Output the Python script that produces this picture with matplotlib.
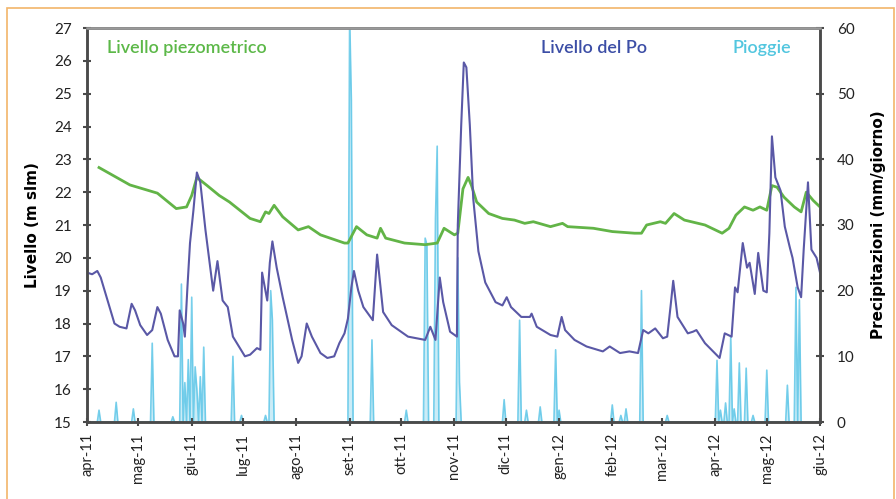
import numpy as np
import matplotlib
matplotlib.use("Agg")
import matplotlib.pyplot as plt
from matplotlib.patches import Rectangle

plt.rcParams['font.family'] = ['Lato', 'DejaVu Sans']

# giorni dal 1 aprile 2011
start = np.datetime64('2011-04-01')

piezo_days = [7, 25, 41, 52, 58, 61, 64, 70, 77, 83, 95, 101, 104, 106, 109, 114, 123, 129,
              136, 150, 152, 157, 163, 169, 171, 174, 185, 197, 204, 208, 214, 216, 219, 222,
              224, 227, 234, 242, 249, 255, 260, 270, 277, 280, 295, 306, 319, 323, 326, 334,
              337, 342, 348, 360, 370, 374, 378, 383, 388, 392, 396, 399, 402, 406, 412, 416,
              419, 423, 427]
piezo_level = [22.75, 22.22, 21.97, 21.5, 21.55, 21.9, 22.45, 22.2, 21.9, 21.7, 21.2, 21.1,
               21.4, 21.35, 21.6, 21.25, 20.85, 20.95, 20.7, 20.45, 20.45, 20.95, 20.7, 20.6,
               20.9, 20.6, 20.45, 20.4, 20.45, 20.9, 20.7, 20.75, 22.1, 22.45, 22.2, 21.7, 21.35,
               21.2, 21.15, 21.05, 21.1, 20.95, 21.05, 20.95, 20.9, 20.8, 20.75, 20.75, 21.0,
               21.1, 21.05, 21.35, 21.15, 21.0, 20.75, 20.9, 21.3, 21.55, 21.45, 21.55, 21.45,
               22.2, 22.15, 21.85, 21.55, 21.4, 22.0, 21.75, 21.55]

po_days = [0, 3, 6, 8, 12, 16, 19, 23, 26, 28, 31, 35, 38, 41, 43, 47, 51, 53, 54, 56, 57,
           58.5, 60, 62, 64, 66, 69, 73.5, 76, 79, 82, 85, 92, 95, 99, 101, 102, 105, 106.5,
           108, 110.5, 114, 119.5, 123, 125, 128, 131, 136, 140, 144, 147, 150, 152, 154,
           155.5, 158, 161, 166.5, 169, 172.5, 177.5, 187, 197, 200, 203, 205.5, 207.5, 211.5,
           215.5, 216, 218, 219.5, 221, 223, 225, 228, 232, 238, 242, 244.5, 247, 253, 258,
           259, 262, 270, 274, 276.5, 278.5, 284, 291, 300.5, 304.5, 310.5, 316, 321, 324,
           327, 331, 335.5, 338, 340, 341.5, 344, 350, 353, 355, 360, 368.5, 371.5, 375.5,
           377.5, 379, 382, 384.5, 386, 389, 391, 394, 396, 397.5, 399, 401, 404, 406.5,
           409.5, 411, 414, 416, 417.5, 420, 422, 425, 427]
po_level = [19.55, 19.5, 19.6, 19.4, 18.7, 18.0, 17.9, 17.85, 18.6, 18.4, 17.95, 17.65, 17.8,
            18.5, 18.3, 17.5, 17.0, 17.0, 18.4, 18.0, 17.6, 19.1, 20.45, 21.45, 22.6, 22.3,
            20.85, 19.0, 19.9, 18.7, 18.5, 17.6, 17.0, 17.05, 17.25, 17.2, 19.55, 18.7, 19.85,
            20.5, 19.7, 18.8, 17.5, 16.8, 17.0, 18.0, 17.6, 17.1, 16.95, 17.0, 17.4, 17.7,
            18.15, 19.1, 19.6, 19.0, 18.5, 18.1, 20.1, 18.35, 17.95, 17.6, 17.5, 17.9, 17.5,
            19.4, 18.65, 17.75, 17.6, 21.0, 24.05, 25.95, 25.8, 24.05, 21.8, 20.2, 19.25,
            18.65, 18.55, 18.8, 18.5, 18.2, 18.2, 18.3, 17.9, 17.65, 17.6, 18.2, 17.8, 17.5,
            17.3, 17.15, 17.3, 17.1, 17.15, 17.1, 17.8, 17.7, 17.85, 17.55, 17.6, 18.55, 19.3,
            18.2, 17.7, 17.75, 17.8, 17.4, 16.95, 17.7, 17.6, 19.1, 18.95, 20.45, 19.7, 19.85,
            18.9, 20.15, 19.0, 18.95, 20.75, 23.7, 22.45, 22.05, 20.95, 20.3, 20.0, 19.1,
            18.8, 20.25, 22.3, 20.25, 20.0, 19.55]

rain_days = [7, 17, 27, 38, 50, 55, 57, 59, 61, 63, 64, 66, 68, 85, 90, 104, 107, 108, 153,
             154, 166, 186, 197, 198, 203, 204, 216, 217, 243, 252, 256, 264, 273, 275, 306,
             311, 314, 323, 338, 367, 369, 372, 375, 377, 380, 384, 388, 396, 408, 413, 415]
rain_mm = [1.8, 3, 2, 12, 0.8, 21, 6, 9.5, 19, 8.4, 5, 6.9, 11.4, 10, 1, 1, 20, 15.5, 62, 49,
           12.5, 1.8, 28, 27, 31, 42, 25, 6, 3.4, 15.5, 1.8, 2.3, 11, 1.8, 2.6, 1, 2, 20, 1,
           9.4, 1.8, 2.9, 13, 2, 9, 8.2, 1, 7.9, 5.6, 20.5, 18.6]

month_labels = ['apr-11', 'mag-11', 'giu-11', 'lug-11', 'ago-11', 'set-11', 'ott-11', 'nov-11',
                'dic-11', 'gen-12', 'feb-12', 'mar-12', 'apr-12', 'mag-12', 'giu-12']

c_piezo = '#62b447'
c_po = '#5a58a6'
c_rain = '#55c3e6'
c_axis = '#4a4a4a'

fig = plt.figure(figsize=(8.96, 4.99), dpi=100)
fig.patches.append(Rectangle((7 / 896, -0.05), 887 / 896, 1 - 8 / 499 + 0.05,
                             transform=fig.transFigure, fill=False,
                             edgecolor='#f2b56a', linewidth=1.2, zorder=0))

ax = fig.add_axes([87 / 896, 1 - 422 / 499, 733 / 896, 394 / 499])
ax2 = ax.twinx()
ax2.set_zorder(ax.get_zorder() - 1)
ax.patch.set_visible(False)

# pioggia giornaliera
ndays = 428
rain = np.zeros(ndays)
for d, v in zip(rain_days, rain_mm):
    rain[d] = v
rain_x = start + np.arange(ndays).astype('timedelta64[D]')
ax2.fill_between(rain_x, 0, rain, color=c_rain, alpha=0.3, linewidth=0)
ax2.plot(rain_x, rain, color=c_rain, lw=1.2, alpha=0.8)

px = start + (np.array(piezo_days) * 24).astype('timedelta64[h]')
ox = start + (np.array(po_days) * 24).astype('timedelta64[h]')
ax.plot(px, piezo_level, color=c_piezo, lw=2.0)
ax.plot(ox, po_level, color=c_po, lw=1.5)

ax.set_xlim(start, start + np.timedelta64(427, 'D'))
ax.set_ylim(15, 27)
ax2.set_ylim(0, 60)
ax.set_yticks(range(15, 28))
ax2.set_yticks(range(0, 61, 10))

month_ticks = np.arange(np.datetime64('2011-04'), np.datetime64('2012-07')).astype('datetime64[D]')
ax.set_xticks(month_ticks)
ax.set_xticklabels(month_labels, rotation=90)

for a in (ax, ax2):
    for s in a.spines.values():
        s.set_color(c_axis)
        s.set_linewidth(1.8)
    a.tick_params(direction='inout', length=6, width=1.5, color=c_axis,
                  labelsize=11, labelcolor='#222222')
ax.spines['top'].set_color('#999999')
ax.tick_params(axis='x', pad=5, labelsize=10.5)
ax.tick_params(axis='y', pad=8)
ax2.tick_params(axis='y', pad=9)

ax.set_ylabel('Livello (m slm)', fontsize=11, fontweight='bold', family='DejaVu Sans',
              labelpad=10)
ax2.set_ylabel('Precipitazioni (mm/giorno)', fontsize=11, fontweight='bold',
               family='DejaVu Sans', rotation=90, labelpad=12)

ax.text(0.027, 0.95, 'Livello piezometrico', transform=ax.transAxes, color='#5cb848',
        fontsize=13, fontweight='semibold', va='center', ha='left')
ax.text(0.764, 0.95, 'Livello del Po', transform=ax.transAxes, color='#3c4ea6',
        fontsize=13, fontweight='semibold', va='center', ha='right')
ax.text(0.96, 0.95, 'Pioggie', transform=ax.transAxes, color='#52c6df',
        fontsize=13, fontweight='semibold', va='center', ha='right')

fig.savefig('out.png', dpi=100)
